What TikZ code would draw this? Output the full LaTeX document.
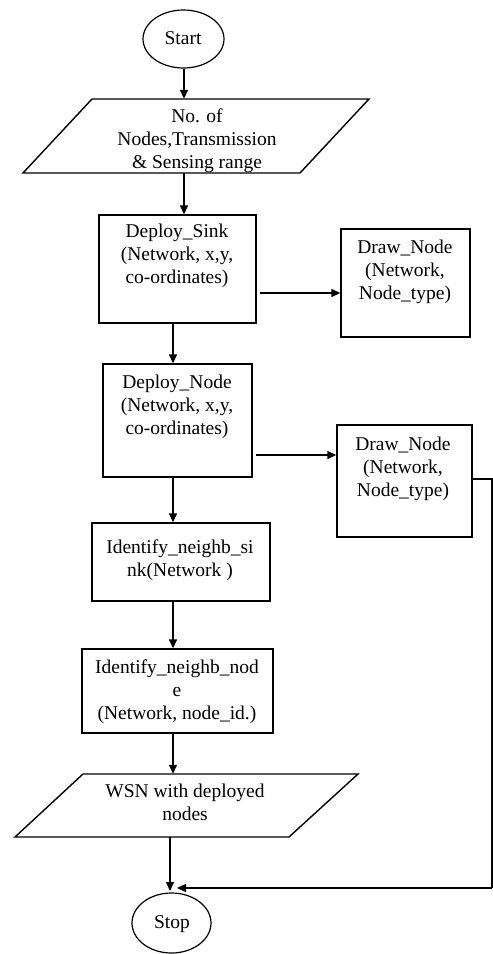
\documentclass[tikz,border=0pt]{standalone}
\usepackage{fontspec}
\setmainfont{Liberation Serif}
\usetikzlibrary{arrows.meta,shapes.geometric}
\tikzset{
  box/.style={draw, line width=1.4pt, inner sep=0pt},
  oval/.style={draw, ellipse, line width=1.2pt, inner sep=0pt},
  txt/.style={align=center, inner sep=0pt, anchor=north, font=\fontsize{19.5}{23}\selectfont},
  ghost/.style={inner sep=0pt, draw=none},
  arr/.style={line width=1.4pt, -{Triangle[length=9pt,width=8pt]}},
  ln/.style={line width=1.4pt}
}
\begin{document}
\begin{tikzpicture}[x=1pt,y=-1pt]
\useasboundingbox (0,0) rectangle (493,954);
% start
\node[oval, minimum width=81pt, minimum height=58pt] (start) at (183.5,39) {};
\node[txt] (tstart) at (183,28) {\strut Start};
% input parallelogram
\draw[ln] (92,99) -- (369,99) -- (300,173) -- (23,173) -- cycle;
\node[ghost, minimum width=277pt, minimum height=74pt] (in1) at (196,136) {};
\node[txt] (tin1) at (197,106) {\strut No. of\\Nodes,Transmission\\\& Sensing range};
% deploy sink
\node[box, minimum width=157pt, minimum height=108pt] (sink) at (177.5,269) {};
\node[txt] (tsink) at (177,221) {\strut Deploy\_Sink\\(Network, x,y,\\co-ordinates)};
% draw node 1
\node[box, minimum width=129pt, minimum height=108pt] (dn1) at (405.5,283) {};
\node[txt] (tdn1) at (405,237) {\strut Draw\_Node\\(Network,\\Node\_type)};
% deploy node
\node[box, minimum width=149pt, minimum height=113pt] (dnode) at (177.5,420.5) {};
\node[txt] (tdnode) at (177,372) {\strut Deploy\_Node\\(Network, x,y,\\co-ordinates)};
% draw node 2
\node[box, minimum width=135pt, minimum height=112pt] (dn2) at (404.5,481) {};
\node[txt] (tdn2) at (403,434) {\strut Draw\_Node\\(Network,\\Node\_type)};
% identify sink
\node[box, minimum width=178pt, minimum height=78pt] (isink) at (181,562) {};
\node[txt] (tisink) at (180,537) {\strut Identify\_neighb\_si\\nk(Network )};
% identify node
\node[box, minimum width=191pt, minimum height=84pt] (inode) at (177.5,691) {};
\node[txt] (tinode) at (177,657) {\strut Identify\_neighb\_nod\\e\\(Network, node\_id.)};
% output parallelogram
\draw[ln] (83,774) -- (358,774) -- (289,837) -- (15,837) -- cycle;
\node[ghost, minimum width=275pt, minimum height=63pt] (out) at (186.5,805.5) {};
\node[txt] (tout) at (185,781) {\strut WSN with deployed\\nodes};
% stop
\node[oval, minimum width=79pt, minimum height=60pt] (stop) at (171.5,923) {};
\node[txt] (tstop) at (172,912) {\strut Stop};
% connectors
\coordinate (a1) at (184,0);
\draw[arr] (start.south -| a1) -- (in1.north -| a1);
\draw[arr] (in1.south -| a1) -- (sink.north -| a1);
\coordinate (h1) at (0,293);
\draw[arr] ([xshift=3pt]sink.east |- h1) -- (dn1.west |- h1);
\coordinate (a2) at (173,0);
\draw[arr] (sink.south -| a2) -- (dnode.north -| a2);
\coordinate (h2) at (0,455);
\draw[arr] ([xshift=3pt]dnode.east |- h2) -- (dn2.west |- h2);
\draw[arr] (dnode.south -| a2) -- (isink.north -| a2);
\draw[arr] (isink.south -| a2) -- (inode.north -| a2);
\draw[arr] (inode.south -| a2) -- (out.north -| a2);
\coordinate (a3) at (170,0);
\coordinate (top) at (170,891);
\draw[arr] (out.south -| a3) -- (top);
\coordinate (c1) at (492,479);
\coordinate (c2) at (492,888);
\coordinate (c3) at (177,888);
\draw[ln] (dn2.east |- c1) -- (c1) -- (c2);
\draw[arr] (c2) -- (c3);
\end{tikzpicture}
\end{document}
